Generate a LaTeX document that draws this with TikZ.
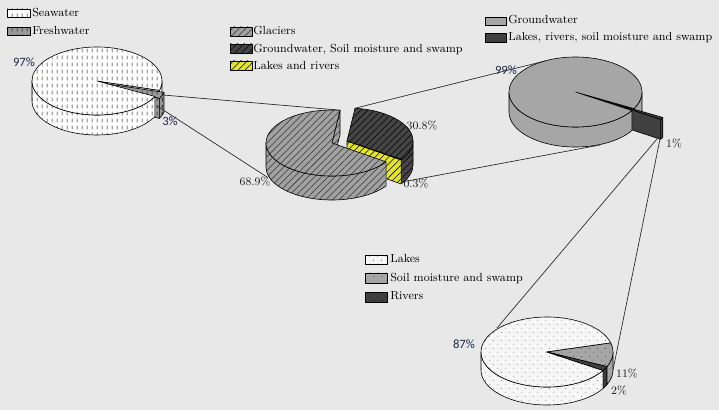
\documentclass[tikz,border=0pt]{standalone}
\usepackage{fontspec}
\newfontfamily\calfont{Carlito}
\usetikzlibrary{patterns,patterns.meta}
\definecolor{bg}{RGB}{232,232,232}
\definecolor{navy}{RGB}{30,40,75}
\definecolor{yel}{RGB}{228,228,48}
\tikzdeclarepattern{name=vdash, type=uncolored,
  bounding box={(0pt,0pt) and (3.75pt,5.25pt)}, tile size={(3.75pt,5.25pt)},
  code={\draw[line width=0.5pt] (1.85pt,0.6pt) -- (1.85pt,3.6pt);}}
\tikzdeclarepattern{name=sdots, type=uncolored,
  bounding box={(0pt,0pt) and (6pt,6pt)}, tile size={(6pt,6pt)},
  code={\fill (1.5pt,1.5pt) circle[radius=0.35pt]; \fill (4.5pt,4.5pt) circle[radius=0.35pt];}}
% cx cy rx ry a b  (angles measured clockwise on screen, y down)
\newcommand\pieArc[6]{arc[start angle={-(#5)}, end angle={-(#6)}, x radius={#3*0.75pt}, y radius={#4*0.75pt}]}
\newcommand\pieR[5]{({#1+#3*cos(#5)},{#2+#4*sin(#5)})}
\newcommand\pieW[6]{(#1,#2) -- \pieR{#1}{#2}{#3}{#4}{#6} -- \pieR{#1}{#2+#5}{#3}{#4}{#6} -- (#1,{#2+#5}) -- cycle}
\newcommand\pieT[6]{(#1,#2) -- \pieR{#1}{#2}{#3}{#4}{#5} \pieArc{#1}{#2}{#3}{#4}{#5}{#6} -- cycle}
\newcommand\pieS[7]{\pieR{#1}{#2}{#3}{#4}{#6} \pieArc{#1}{#2}{#3}{#4}{#6}{#7} -- \pieR{#1}{#2+#5}{#3}{#4}{#7} \pieArc{#1}{#2+#5}{#3}{#4}{#7}{#6} -- cycle}
\tikzset{
  ol/.style={draw=black, line width=0.45pt, line join=round},
  hatch/.style={pattern={Lines[angle=45,distance=3.6pt,line width=0.4pt]}},
  seatop/.style={ol, preaction={fill=white}, pattern=vdash, pattern color=black},
  seawall/.style={ol, preaction={fill=black!12}, pattern=vdash, pattern color=black},
  fresh/.style={ol, preaction={fill=black!40}, pattern=vdash, pattern color=black},
  glac/.style={ol, preaction={fill=black!37}, hatch, pattern color=black!80},
  gdark/.style={ol, preaction={fill=black!73}, hatch, pattern color=black},
  glake/.style={ol, preaction={fill=yel}, hatch, pattern color=black},
  gw/.style={ol, fill=black!35},
  gwwall/.style={ol, fill=black!85},
  lrs/.style={ol, fill=black!75},
  lakes/.style={ol, preaction={fill=white!97!black}, pattern=sdots, pattern color=black!75},
  soil/.style={ol, preaction={fill=black!35}, pattern=sdots, pattern color=black!75},
  riv/.style={ol, preaction={fill=black!75}, pattern=sdots, pattern color=black},
  conn/.style={draw=black!85, line width=0.5pt},
  leg/.style={anchor=base west, inner sep=0pt, font=\fontsize{8.8}{11}\selectfont},
  pct/.style={inner sep=0pt, text=black!90, font=\fontsize{8.6}{10}\selectfont},
  pcs/.style={inner sep=0pt, text=navy, font=\calfont\fontsize{9.5}{11}\selectfont}
}
\begin{document}
\begin{tikzpicture}[x=0.75pt,y=-0.75pt]
\fill[bg] (0,0) rectangle (719,410);
\useasboundingbox (0,0) rectangle (719,410);

% ---- Pie 1: Seawater / Freshwater
\path[seawall] \pieW{97}{81}{65}{34}{20}{16};
\path[seatop] \pieS{97}{81}{65}{34}{20}{0}{16};
\path[fresh] \pieW{101.5}{83}{65}{34}{20}{27};
\path[fresh] \pieS{101.5}{83}{65}{34}{20}{16}{27};
\path[fresh] \pieT{101.5}{83}{65}{34}{16}{27};
\path[seatop] \pieS{97}{81}{65}{34}{20}{27}{180};
\path[seatop] \pieT{97}{81}{65}{34}{27}{376};

% ---- Pie 2: Glaciers / Groundwater... / Lakes and rivers
\path[gdark] \pieS{347}{141}{66}{33}{24}{0}{35};
\path[glake] \pieW{347}{141}{66}{33}{24}{35};
\path[gdark] \pieT{347}{141}{66}{33}{277}{394};
\path[glake] \pieT{347}{141}{66}{33}{394}{395};
\path[glac] \pieW{332}{143}{66}{33}{24}{277};
\path[glac] \pieS{332}{143}{66}{33}{24}{35}{180};
\path[glac] \pieT{332}{143}{66}{33}{35}{277};

% ---- Pie 3: Groundwater / Lakes, rivers, soil...
\path[gwwall] \pieW{575.5}{92}{66.5}{35}{20}{28.4};
\path[gw] \pieS{575.5}{92}{66.5}{35}{20}{0}{28.4};
\path[lrs] \pieW{604.3}{100.8}{66.5}{35}{20}{32};
\path[lrs] \pieS{604.3}{100.8}{66.5}{35}{20}{28.4}{32};
\path[lrs] \pieT{604.3}{100.8}{66.5}{35}{28.4}{32};
\path[gw] \pieS{575.5}{92}{66.5}{35}{20}{32}{180};
\path[gw] \pieT{575.5}{92}{66.5}{35}{32}{388.4};

% ---- Pie 4: Lakes / Soil moisture / Rivers
\path[lakes] \pieS{547}{352}{66}{35}{18}{31.8}{180};
\path[riv] \pieS{547}{352}{66}{35}{18}{24.6}{31.8};
\path[soil] \pieS{547}{352}{66}{35}{18}{0}{24.6};
\path[lakes] \pieT{547}{352}{66}{35}{31.8}{345};
\path[soil] \pieT{547}{352}{66}{35}{-15}{24.6};
\path[riv] \pieT{547}{352}{66}{35}{24.6}{31.8};

% ---- connectors
\coordinate (f1) at (163,95);   \coordinate (g1) at (340,110.2);
\coordinate (f2) at (157,106);  \coordinate (g2) at (267,177);
\coordinate (d1) at (356,108);  \coordinate (h1) at (545,61);
\coordinate (d2) at (402,182);  \coordinate (h2) at (600,145);
\coordinate (w1) at (657,139);  \coordinate (k1) at (497,328);
\coordinate (w2) at (660,139);  \coordinate (k2) at (613,370);
\draw[conn] (f1) -- (g1);
\draw[conn] (f2) -- (g2);
\draw[conn] (d1) -- (h1);
\draw[conn] (d2) -- (h2);
\draw[conn] (w1) -- (k1);
\draw[conn] (w2) -- (k2);

% ---- legends
\path[seatop] (7,9) rectangle (30,17);
\path[fresh] (7,27) rectangle (30,35);
\node[leg] (lsea) at (32,16.7) {Seawater};
\node[leg] (lfresh) at (32,34.7) {Freshwater};

\path[glac] (230,27) rectangle (252,36);
\path[gdark] (230,44) rectangle (252,53);
\path[glake] (230,61) rectangle (252,70);
\node[leg] (lglac) at (253,35) {Glaciers};
\node[leg] (lgsw) at (253,52.3) {Groundwater, Soil moisture and swamp};
\node[leg] (llr) at (253,69.3) {Lakes and rivers};

\path[gw] (485,17) rectangle (506,25);
\path[lrs] (485,33) rectangle (506,42);
\node[leg] (lgw) at (508,24) {Groundwater};
\node[leg] (llrs) at (508,40.7) {Lakes, rivers, soil moisture and swamp};

\path[lakes] (365,255) rectangle (387,264);
\path[soil] (365,273) rectangle (387,283);
\path[riv] (365,292) rectangle (387,302);
\node[leg] (llak) at (390,262.7) {Lakes};
\node[leg] (lsoil) at (390,281.7) {Soil moisture and swamp};
\node[leg] (lriv) at (390,300) {Rivers};

% ---- percentages
\node[pcs] (p97) at (24,62) {97\%};
\node[pcs] (p3) at (170,121) {3\%};
\node[pct] (p689) at (255,182) {68.9\%};
\node[pct] (p308) at (422,126) {30.8\%};
\node[pct] (p03) at (416,184) {0.3\%};
\node[pcs] (p99) at (506,70) {99\%};
\node[pct] (p1) at (674,144) {1\%};
\node[pcs] (p87) at (464,344) {87\%};
\node[pct] (p11) at (627,374) {11\%};
\node[pct] (p2) at (619,391) {2\%};
\end{tikzpicture}
\end{document}
